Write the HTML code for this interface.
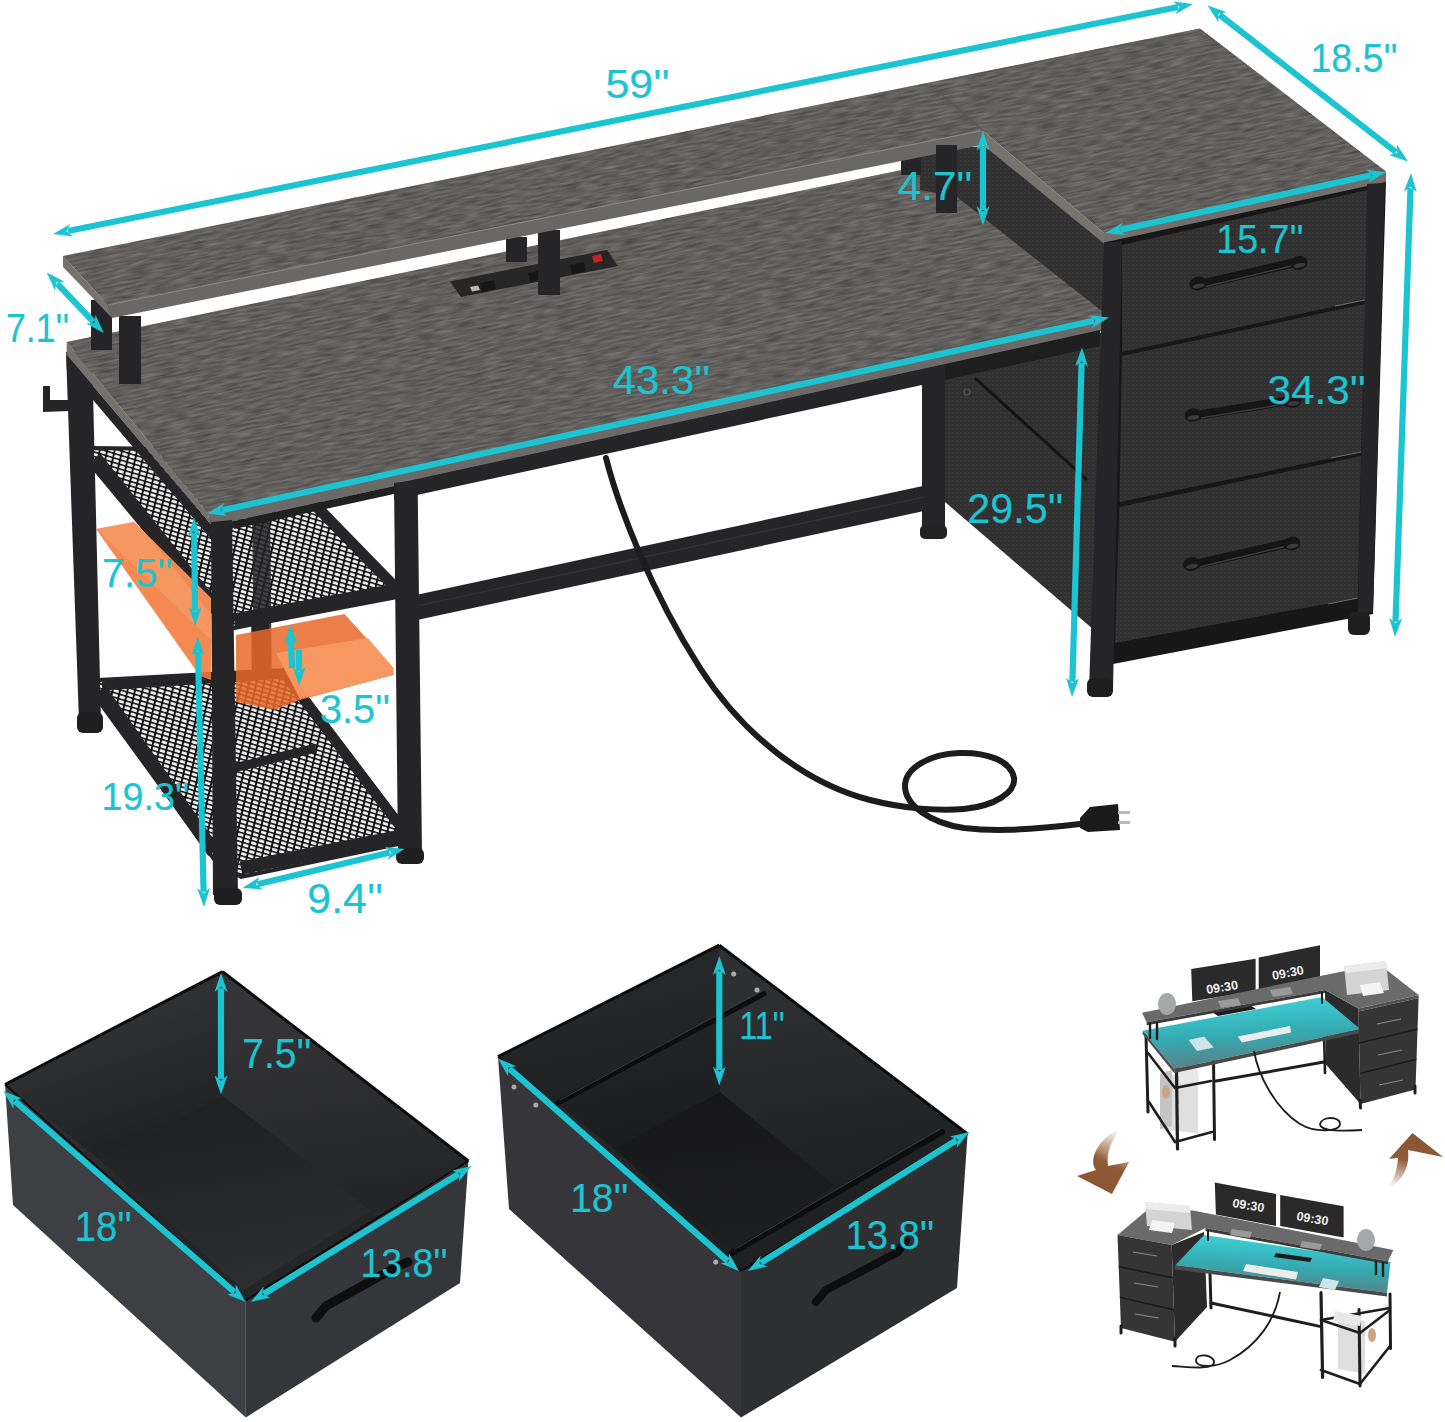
<!DOCTYPE html>
<html><head><meta charset="utf-8"><style>
html,body{margin:0;padding:0;background:#fff;width:1445px;height:1422px;overflow:hidden}
svg{display:block}
text{font-family:"Liberation Sans",sans-serif}
</style></head><body>
<svg width="1445" height="1422" viewBox="0 0 1445 1422">

<defs>
<pattern id="fab" patternUnits="userSpaceOnUse" width="4" height="4">
<rect width="4" height="4" fill="#303030"/><rect width="2" height="2" fill="#373737"/>
</pattern>
<pattern id="mesh" patternUnits="userSpaceOnUse" width="7" height="4.6" patternTransform="skewY(17) skewX(-12)">
<rect width="7" height="4.6" fill="#121212"/><rect x="0.9" y="0.8" width="5.2" height="2.9" rx="0.8" fill="#f2f2f2"/>
</pattern>
<filter id="woodtex" x="-0.1" y="-0.1" width="1.2" height="1.2" color-interpolation-filters="sRGB">
<feTurbulence type="fractalNoise" baseFrequency="0.05 0.45" numOctaves="2" seed="5" result="n"/>
<feColorMatrix in="n" type="matrix" values="0.9 0 0 0 -0.06  0.9 0 0 0 -0.07  0.9 0 0 0 -0.08  0 0 0 0 0.3"/>
</filter>
<linearGradient id="b1lw" gradientUnits="userSpaceOnUse" x1="110" y1="1030" x2="150" y2="1150"><stop offset="0" stop-color="#2f3032"/><stop offset="1" stop-color="#1f2022"/></linearGradient>
<linearGradient id="b1rw" gradientUnits="userSpaceOnUse" x1="300" y1="1000" x2="330" y2="1200"><stop offset="0" stop-color="#353537"/><stop offset="1" stop-color="#242527"/></linearGradient>
<linearGradient id="b1fl" gradientUnits="userSpaceOnUse" x1="221" y1="1100" x2="250" y2="1290"><stop offset="0" stop-color="#1f2022"/><stop offset="1" stop-color="#2d2e30"/></linearGradient>
<linearGradient id="b2lw" gradientUnits="userSpaceOnUse" x1="610" y1="1000" x2="640" y2="1140"><stop offset="0" stop-color="#262729"/><stop offset="1" stop-color="#1b1c1e"/></linearGradient>
<linearGradient id="b2rw" gradientUnits="userSpaceOnUse" x1="800" y1="990" x2="830" y2="1180"><stop offset="0" stop-color="#2e2f31"/><stop offset="1" stop-color="#1f2022"/></linearGradient>
<linearGradient id="b2fl" gradientUnits="userSpaceOnUse" x1="720" y1="1095" x2="740" y2="1258"><stop offset="0" stop-color="#17171a"/><stop offset="1" stop-color="#1e1f21"/></linearGradient>
<clipPath id="cshelf"><polygon points="63.0,256.0 1200.0,28.4 1386.0,171.5 1104.0,233.0 982.7,130.4 108.0,305.0"/></clipPath>
<clipPath id="cdesk"><polygon points="66.7,342.0 960.0,158.0 1104.0,311.0 1108.0,316.0 207.0,512.0"/></clipPath>
<radialGradient id="floorg" cx="0.45" cy="0.6" r="0.6"><stop offset="0" stop-color="#232325"/><stop offset="1" stop-color="#1c1c1e"/></radialGradient>
<linearGradient id="arrL" x1="0.7" y1="0" x2="0.3" y2="1"><stop offset="0" stop-color="#a06a45" stop-opacity="0"/><stop offset="0.5" stop-color="#8f5a36"/><stop offset="1" stop-color="#8a5533"/></linearGradient>
<linearGradient id="arrR" x1="0.3" y1="1" x2="0.6" y2="0"><stop offset="0" stop-color="#a06a45" stop-opacity="0"/><stop offset="0.5" stop-color="#8f5a36"/><stop offset="1" stop-color="#8a5533"/></linearGradient>
<linearGradient id="cyg" x1="0.3" y1="0" x2="0.5" y2="1"><stop offset="0" stop-color="#3fd6dc"/><stop offset="0.55" stop-color="#35a9b1"/><stop offset="1" stop-color="#5f7b80"/></linearGradient>
<linearGradient id="cyg2" x1="0.6" y1="0" x2="0.4" y2="1"><stop offset="0" stop-color="#3fd6dc"/><stop offset="0.55" stop-color="#35a9b1"/><stop offset="1" stop-color="#5f7b80"/></linearGradient>
</defs>

<rect width="1445" height="1422" fill="#fff"/>
<polygon points="945.0,366.0 1108.0,331.0 1101.0,636.0 945.0,502.0" fill="url(#fab)" />
<line x1="975.0" y1="378.0" x2="1087.0" y2="480.0" stroke="#141414" stroke-width="3" />
<circle cx="967" cy="392" r="3" fill="none" stroke="#555" stroke-width="1.2"/>
<polygon points="922.0,370.0 945.0,366.0 945.0,535.0 922.0,535.0" fill="#252527" />
<rect x="920.0" y="525.0" width="27.0" height="14.0" fill="#222"  rx="5"/>
<polygon points="417.0,594.7 924.0,485.8 924.0,511.0 417.0,620.0" fill="#252527" />
<line x1="417.0" y1="606.0" x2="924.0" y2="497.0" stroke="#333" stroke-width="1.2" />
<polygon points="66.0,352.0 92.0,350.0 101.0,722.0 79.0,722.0" fill="#252527" />
<rect x="77.0" y="712.0" width="26.0" height="21.0" fill="#1f1f1f"  rx="6"/>
<polygon points="250.0,500.0 268.0,498.0 270.0,700.0 252.0,702.0" fill="#252527" />
<polygon points="92.0,448.0 261.0,450.0 397.0,589.0 397.0,597.0 234.0,628.0 213.0,612.0 92.0,466.0" fill="url(#mesh)" stroke="#252527" stroke-width="4"/>
<line x1="95.0" y1="458.0" x2="213.0" y2="606.0" stroke="#252527" stroke-width="14" />
<line x1="234.0" y1="620.0" x2="396.0" y2="590.0" stroke="#252527" stroke-width="13" />
<line x1="312.0" y1="502.0" x2="396.0" y2="588.0" stroke="#252527" stroke-width="11" />
<polygon points="252.0,500.0 270.0,498.0 272.0,700.0 254.0,702.0" fill="#252527" opacity="0.85"/>
<polygon points="98.0,680.0 286.0,670.0 404.0,826.0 403.0,843.0 241.0,877.0 216.0,862.0 98.0,700.0" fill="url(#mesh)" stroke="#252527" stroke-width="4"/>
<line x1="100.0" y1="690.0" x2="214.0" y2="852.0" stroke="#252527" stroke-width="14" />
<line x1="241.0" y1="868.0" x2="402.0" y2="836.0" stroke="#252527" stroke-width="13" />
<line x1="286.0" y1="676.0" x2="403.0" y2="830.0" stroke="#252527" stroke-width="10" />
<line x1="102.0" y1="686.0" x2="286.0" y2="674.0" stroke="#252527" stroke-width="9" />
<line x1="213.0" y1="773.0" x2="316.0" y2="748.0" stroke="#252527" stroke-width="9" />
<polygon points="96.0,529.0 134.0,522.0 211.0,598.0 211.0,680.0 200.0,676.0" fill="#f27a3a" opacity="0.88"/>
<polygon points="96.0,529.0 134.0,522.0 211.0,598.0 211.0,640.0" fill="#f7a06c" opacity="0.6"/>
<polygon points="236.0,635.0 344.5,614.0 393.4,668.0 393.4,675.0 300.0,700.0 275.0,710.0 236.0,702.0" fill="#e8682a" opacity="0.85"/>
<polygon points="276.0,653.0 368.0,638.0 393.4,668.0 393.4,675.0 300.0,699.0" fill="#f79a64" opacity="0.92"/>
<polygon points="43.0,386.0 50.0,386.0 50.0,400.0 70.0,400.0 70.0,411.0 43.0,412.0" fill="#252527" />
<polygon points="66.7,342.0 960.0,158.0 1104.0,311.0 1108.0,316.0 207.0,512.0" fill="#615f5d" />
<g clip-path="url(#cdesk)">
<g transform="rotate(-11.3 587 335)"><rect x="-84" y="8" width="1342" height="654" fill="#000" filter="url(#woodtex)"/></g>
<line x1="335.8" y1="242.8" x2="476.5" y2="214.7" stroke="#4f4c4a" stroke-width="1.4" opacity="0.34"/>
<line x1="631.5" y1="669.6" x2="698.0" y2="656.3" stroke="#4f4c4a" stroke-width="1.0" opacity="0.33"/>
<line x1="69.6" y1="396.7" x2="240.2" y2="362.6" stroke="#4f4c4a" stroke-width="1.5" opacity="0.55"/>
<line x1="631.8" y1="192.8" x2="761.3" y2="166.9" stroke="#4f4c4a" stroke-width="1.6" opacity="0.32"/>
<line x1="946.4" y1="320.9" x2="1000.9" y2="310.0" stroke="#4f4c4a" stroke-width="1.2" opacity="0.52"/>
<line x1="744.8" y1="216.0" x2="872.0" y2="190.5" stroke="#4f4c4a" stroke-width="1.0" opacity="0.52"/>
<line x1="37.7" y1="191.5" x2="102.7" y2="178.5" stroke="#7a7673" stroke-width="1.1" opacity="0.61"/>
<line x1="497.7" y1="677.3" x2="589.2" y2="659.0" stroke="#4f4c4a" stroke-width="1.4" opacity="0.58"/>
<line x1="244.8" y1="481.1" x2="364.0" y2="457.2" stroke="#55524f" stroke-width="1.3" opacity="0.42"/>
<line x1="1085.4" y1="224.4" x2="1186.4" y2="204.2" stroke="#55524f" stroke-width="0.8" opacity="0.50"/>
<line x1="10.8" y1="533.8" x2="170.8" y2="501.8" stroke="#7a7673" stroke-width="1.4" opacity="0.63"/>
<line x1="354.4" y1="354.9" x2="468.9" y2="332.1" stroke="#55524f" stroke-width="0.7" opacity="0.34"/>
<line x1="274.3" y1="550.0" x2="315.3" y2="541.8" stroke="#7a7673" stroke-width="1.3" opacity="0.56"/>
<line x1="1100.1" y1="620.3" x2="1178.5" y2="604.6" stroke="#55524f" stroke-width="1.5" opacity="0.44"/>
<line x1="1040.2" y1="357.9" x2="1174.1" y2="331.1" stroke="#55524f" stroke-width="0.7" opacity="0.61"/>
<line x1="113.7" y1="297.3" x2="210.2" y2="278.0" stroke="#55524f" stroke-width="0.7" opacity="0.48"/>
<line x1="593.5" y1="654.8" x2="762.7" y2="621.0" stroke="#7a7673" stroke-width="0.9" opacity="0.47"/>
<line x1="375.7" y1="655.3" x2="568.5" y2="616.7" stroke="#4f4c4a" stroke-width="0.7" opacity="0.36"/>
<line x1="718.0" y1="164.8" x2="889.3" y2="130.5" stroke="#4f4c4a" stroke-width="0.9" opacity="0.30"/>
<line x1="444.4" y1="365.7" x2="570.7" y2="340.4" stroke="#4f4c4a" stroke-width="1.3" opacity="0.51"/>
<line x1="671.3" y1="538.3" x2="710.5" y2="530.5" stroke="#7a7673" stroke-width="1.4" opacity="0.46"/>
<line x1="421.6" y1="216.2" x2="559.5" y2="188.7" stroke="#4f4c4a" stroke-width="0.8" opacity="0.69"/>
<line x1="469.2" y1="219.8" x2="601.3" y2="193.4" stroke="#4f4c4a" stroke-width="0.6" opacity="0.36"/>
<line x1="81.9" y1="362.5" x2="116.2" y2="355.6" stroke="#4f4c4a" stroke-width="1.2" opacity="0.36"/>
<line x1="254.1" y1="353.4" x2="346.0" y2="335.0" stroke="#4f4c4a" stroke-width="0.7" opacity="0.50"/>
<line x1="1082.7" y1="428.2" x2="1165.7" y2="411.6" stroke="#4f4c4a" stroke-width="0.7" opacity="0.44"/>
<line x1="268.4" y1="624.1" x2="325.8" y2="612.7" stroke="#4f4c4a" stroke-width="0.8" opacity="0.68"/>
<line x1="379.1" y1="546.1" x2="564.5" y2="509.0" stroke="#7a7673" stroke-width="0.9" opacity="0.56"/>
<line x1="69.9" y1="633.5" x2="188.1" y2="609.9" stroke="#4f4c4a" stroke-width="1.0" opacity="0.39"/>
<line x1="584.5" y1="440.7" x2="722.7" y2="413.1" stroke="#7a7673" stroke-width="1.4" opacity="0.69"/>
<line x1="939.7" y1="611.3" x2="1108.8" y2="577.5" stroke="#7a7673" stroke-width="1.4" opacity="0.38"/>
<line x1="528.8" y1="569.1" x2="727.0" y2="529.5" stroke="#55524f" stroke-width="1.1" opacity="0.38"/>
<line x1="657.1" y1="351.6" x2="824.5" y2="318.1" stroke="#7a7673" stroke-width="1.6" opacity="0.68"/>
<line x1="382.4" y1="282.0" x2="451.0" y2="268.3" stroke="#4f4c4a" stroke-width="0.9" opacity="0.49"/>
<line x1="1091.2" y1="501.2" x2="1121.5" y2="495.1" stroke="#7a7673" stroke-width="0.9" opacity="0.56"/>
<line x1="919.2" y1="225.4" x2="1015.2" y2="206.2" stroke="#7a7673" stroke-width="1.4" opacity="0.49"/>
<line x1="169.9" y1="601.8" x2="256.4" y2="584.5" stroke="#7a7673" stroke-width="1.0" opacity="0.46"/>
<line x1="1047.2" y1="565.6" x2="1106.1" y2="553.8" stroke="#4f4c4a" stroke-width="0.6" opacity="0.54"/>
<line x1="497.4" y1="526.9" x2="631.4" y2="500.1" stroke="#7a7673" stroke-width="1.6" opacity="0.56"/>
<line x1="366.2" y1="466.6" x2="418.4" y2="456.1" stroke="#4f4c4a" stroke-width="1.4" opacity="0.59"/>
<line x1="83.4" y1="579.5" x2="137.0" y2="568.8" stroke="#4f4c4a" stroke-width="1.4" opacity="0.38"/>
<line x1="253.6" y1="322.8" x2="324.5" y2="308.6" stroke="#7a7673" stroke-width="0.9" opacity="0.52"/>
<line x1="918.7" y1="192.3" x2="1074.4" y2="161.1" stroke="#55524f" stroke-width="1.3" opacity="0.63"/>
<line x1="556.1" y1="623.2" x2="735.4" y2="587.3" stroke="#4f4c4a" stroke-width="1.1" opacity="0.51"/>
<line x1="-12.6" y1="405.5" x2="48.5" y2="393.3" stroke="#4f4c4a" stroke-width="1.4" opacity="0.36"/>
<line x1="127.7" y1="506.2" x2="178.1" y2="496.1" stroke="#4f4c4a" stroke-width="0.9" opacity="0.51"/>
<line x1="600.3" y1="599.1" x2="648.4" y2="589.5" stroke="#7a7673" stroke-width="0.7" opacity="0.38"/>
<line x1="14.2" y1="213.0" x2="121.1" y2="191.6" stroke="#4f4c4a" stroke-width="1.4" opacity="0.66"/>
<line x1="472.2" y1="502.5" x2="588.1" y2="479.3" stroke="#7a7673" stroke-width="0.8" opacity="0.41"/>
<line x1="546.3" y1="612.1" x2="662.6" y2="588.8" stroke="#4f4c4a" stroke-width="1.3" opacity="0.65"/>
<line x1="1042.0" y1="304.0" x2="1167.1" y2="279.0" stroke="#4f4c4a" stroke-width="1.4" opacity="0.35"/>
<line x1="104.9" y1="406.6" x2="147.2" y2="398.2" stroke="#4f4c4a" stroke-width="1.0" opacity="0.39"/>
<line x1="311.8" y1="226.8" x2="473.9" y2="194.4" stroke="#7a7673" stroke-width="1.2" opacity="0.45"/>
<line x1="255.0" y1="235.2" x2="364.6" y2="213.3" stroke="#7a7673" stroke-width="1.6" opacity="0.46"/>
<line x1="522.5" y1="714.7" x2="694.0" y2="680.4" stroke="#4f4c4a" stroke-width="1.3" opacity="0.70"/>
<line x1="427.2" y1="394.9" x2="517.8" y2="376.8" stroke="#4f4c4a" stroke-width="1.3" opacity="0.31"/>
<line x1="598.7" y1="405.7" x2="631.8" y2="399.1" stroke="#55524f" stroke-width="1.1" opacity="0.42"/>
<line x1="1063.2" y1="221.5" x2="1249.4" y2="184.2" stroke="#4f4c4a" stroke-width="1.6" opacity="0.34"/>
<line x1="269.3" y1="180.3" x2="431.7" y2="147.8" stroke="#55524f" stroke-width="1.4" opacity="0.63"/>
<line x1="936.2" y1="538.2" x2="1127.0" y2="500.0" stroke="#55524f" stroke-width="0.7" opacity="0.67"/>
<line x1="617.6" y1="551.9" x2="662.8" y2="542.9" stroke="#4f4c4a" stroke-width="1.4" opacity="0.37"/>
<line x1="988.4" y1="309.2" x2="1021.3" y2="302.7" stroke="#4f4c4a" stroke-width="1.4" opacity="0.33"/>
<line x1="943.8" y1="195.5" x2="1120.5" y2="160.1" stroke="#55524f" stroke-width="0.6" opacity="0.70"/>
<line x1="443.1" y1="672.8" x2="578.8" y2="645.7" stroke="#4f4c4a" stroke-width="1.1" opacity="0.40"/>
<line x1="91.0" y1="248.8" x2="129.6" y2="241.1" stroke="#4f4c4a" stroke-width="1.5" opacity="0.55"/>
<line x1="572.5" y1="273.8" x2="678.3" y2="252.6" stroke="#7a7673" stroke-width="0.8" opacity="0.44"/>
<line x1="-13.3" y1="298.9" x2="19.4" y2="292.3" stroke="#7a7673" stroke-width="1.1" opacity="0.69"/>
<line x1="553.3" y1="296.2" x2="659.3" y2="275.0" stroke="#7a7673" stroke-width="1.4" opacity="0.47"/>
<line x1="531.3" y1="627.4" x2="628.1" y2="608.0" stroke="#7a7673" stroke-width="0.9" opacity="0.39"/>
<line x1="228.2" y1="269.7" x2="408.1" y2="233.7" stroke="#7a7673" stroke-width="1.2" opacity="0.46"/>
<line x1="362.9" y1="188.6" x2="415.0" y2="178.2" stroke="#4f4c4a" stroke-width="1.2" opacity="0.65"/>
<line x1="457.9" y1="189.2" x2="601.0" y2="160.5" stroke="#55524f" stroke-width="1.5" opacity="0.57"/>
<line x1="288.0" y1="294.2" x2="367.8" y2="278.3" stroke="#55524f" stroke-width="0.8" opacity="0.41"/>
<line x1="-29.9" y1="362.8" x2="56.1" y2="345.6" stroke="#7a7673" stroke-width="0.9" opacity="0.31"/>
<line x1="973.7" y1="280.5" x2="1034.8" y2="268.3" stroke="#55524f" stroke-width="1.0" opacity="0.49"/>
<line x1="540.2" y1="271.0" x2="656.0" y2="247.9" stroke="#4f4c4a" stroke-width="0.7" opacity="0.63"/>
<line x1="130.3" y1="488.0" x2="227.3" y2="468.6" stroke="#55524f" stroke-width="0.9" opacity="0.39"/>
<line x1="634.7" y1="455.6" x2="792.3" y2="424.1" stroke="#7a7673" stroke-width="1.5" opacity="0.61"/>
<line x1="647.3" y1="587.8" x2="799.8" y2="557.3" stroke="#55524f" stroke-width="0.7" opacity="0.59"/>
<line x1="700.6" y1="182.6" x2="872.6" y2="148.2" stroke="#7a7673" stroke-width="1.2" opacity="0.59"/>
<line x1="893.6" y1="236.3" x2="1012.6" y2="212.5" stroke="#7a7673" stroke-width="1.2" opacity="0.63"/>
<line x1="-15.6" y1="544.1" x2="150.0" y2="510.9" stroke="#7a7673" stroke-width="1.3" opacity="0.58"/>
<line x1="228.6" y1="175.5" x2="281.2" y2="165.0" stroke="#55524f" stroke-width="1.6" opacity="0.45"/>
<line x1="481.5" y1="186.6" x2="514.7" y2="179.9" stroke="#7a7673" stroke-width="1.3" opacity="0.50"/>
<line x1="-30.2" y1="606.6" x2="127.0" y2="575.2" stroke="#7a7673" stroke-width="1.5" opacity="0.34"/>
<line x1="566.7" y1="577.4" x2="677.2" y2="555.3" stroke="#4f4c4a" stroke-width="1.4" opacity="0.39"/>
<line x1="829.9" y1="287.8" x2="970.3" y2="259.7" stroke="#55524f" stroke-width="1.1" opacity="0.45"/>
<line x1="513.0" y1="542.5" x2="673.4" y2="510.4" stroke="#7a7673" stroke-width="1.2" opacity="0.38"/>
<line x1="650.9" y1="344.6" x2="791.6" y2="316.4" stroke="#7a7673" stroke-width="0.9" opacity="0.53"/>
<line x1="-19.8" y1="192.1" x2="55.9" y2="177.0" stroke="#7a7673" stroke-width="0.7" opacity="0.39"/>
<line x1="525.1" y1="556.7" x2="603.7" y2="541.0" stroke="#55524f" stroke-width="1.1" opacity="0.35"/>
<line x1="986.6" y1="270.1" x2="1182.8" y2="230.8" stroke="#55524f" stroke-width="0.6" opacity="0.48"/>
<line x1="902.3" y1="702.5" x2="1008.7" y2="681.2" stroke="#55524f" stroke-width="1.0" opacity="0.67"/>
<line x1="1028.7" y1="200.0" x2="1074.0" y2="190.9" stroke="#7a7673" stroke-width="1.1" opacity="0.68"/>
<line x1="117.4" y1="619.3" x2="233.9" y2="596.0" stroke="#4f4c4a" stroke-width="1.3" opacity="0.39"/>
<line x1="991.2" y1="431.4" x2="1025.4" y2="424.6" stroke="#4f4c4a" stroke-width="1.5" opacity="0.57"/>
<line x1="429.0" y1="567.0" x2="529.7" y2="546.8" stroke="#55524f" stroke-width="0.9" opacity="0.64"/>
<line x1="-32.0" y1="580.2" x2="140.6" y2="545.7" stroke="#4f4c4a" stroke-width="1.5" opacity="0.38"/>
<line x1="-20.6" y1="574.1" x2="52.4" y2="559.5" stroke="#4f4c4a" stroke-width="1.0" opacity="0.70"/>
<line x1="638.8" y1="360.9" x2="741.6" y2="340.3" stroke="#55524f" stroke-width="1.5" opacity="0.41"/>
<line x1="24.9" y1="530.3" x2="162.9" y2="502.7" stroke="#4f4c4a" stroke-width="0.8" opacity="0.41"/>
<line x1="549.5" y1="264.8" x2="643.0" y2="246.1" stroke="#55524f" stroke-width="1.5" opacity="0.62"/>
<line x1="686.5" y1="671.7" x2="876.4" y2="633.7" stroke="#7a7673" stroke-width="0.8" opacity="0.33"/>
<line x1="1032.0" y1="389.1" x2="1166.6" y2="362.2" stroke="#4f4c4a" stroke-width="1.2" opacity="0.41"/>
<line x1="21.9" y1="679.2" x2="73.6" y2="668.9" stroke="#55524f" stroke-width="1.0" opacity="0.41"/>
<line x1="258.1" y1="573.5" x2="399.0" y2="545.3" stroke="#55524f" stroke-width="1.3" opacity="0.42"/>
<line x1="602.5" y1="379.8" x2="660.9" y2="368.1" stroke="#4f4c4a" stroke-width="0.7" opacity="0.50"/>
<line x1="893.1" y1="467.5" x2="1000.1" y2="446.1" stroke="#55524f" stroke-width="1.6" opacity="0.48"/>
<line x1="125.4" y1="266.2" x2="170.8" y2="257.1" stroke="#55524f" stroke-width="1.2" opacity="0.43"/>
<line x1="386.6" y1="613.2" x2="451.0" y2="600.3" stroke="#4f4c4a" stroke-width="1.3" opacity="0.47"/>
<line x1="438.7" y1="452.8" x2="532.7" y2="434.0" stroke="#55524f" stroke-width="1.4" opacity="0.50"/>
<line x1="621.8" y1="360.5" x2="768.6" y2="331.2" stroke="#7a7673" stroke-width="1.2" opacity="0.65"/>
<line x1="212.6" y1="310.4" x2="284.9" y2="296.0" stroke="#55524f" stroke-width="1.2" opacity="0.47"/>
<line x1="322.3" y1="616.0" x2="516.9" y2="577.1" stroke="#4f4c4a" stroke-width="0.6" opacity="0.58"/>
<line x1="988.9" y1="424.2" x2="1118.7" y2="398.2" stroke="#4f4c4a" stroke-width="0.7" opacity="0.67"/>
<line x1="1026.0" y1="454.9" x2="1135.5" y2="433.0" stroke="#55524f" stroke-width="0.8" opacity="0.34"/>
<line x1="142.3" y1="451.8" x2="288.3" y2="422.6" stroke="#7a7673" stroke-width="1.3" opacity="0.64"/>
<line x1="988.0" y1="205.8" x2="1150.0" y2="173.4" stroke="#4f4c4a" stroke-width="1.4" opacity="0.39"/>
<line x1="1016.5" y1="521.0" x2="1098.2" y2="504.7" stroke="#4f4c4a" stroke-width="1.2" opacity="0.51"/>
<line x1="465.5" y1="587.6" x2="512.5" y2="578.2" stroke="#55524f" stroke-width="1.1" opacity="0.53"/>
<line x1="409.2" y1="283.7" x2="541.4" y2="257.3" stroke="#4f4c4a" stroke-width="1.1" opacity="0.70"/>
<line x1="284.2" y1="335.9" x2="456.9" y2="301.4" stroke="#4f4c4a" stroke-width="1.1" opacity="0.39"/>
<line x1="248.1" y1="698.2" x2="397.9" y2="668.3" stroke="#55524f" stroke-width="0.7" opacity="0.38"/>
<line x1="976.5" y1="522.0" x2="1020.3" y2="513.2" stroke="#4f4c4a" stroke-width="1.3" opacity="0.67"/>
<line x1="225.0" y1="177.2" x2="312.5" y2="159.7" stroke="#55524f" stroke-width="1.0" opacity="0.46"/>
<line x1="-26.3" y1="322.3" x2="147.4" y2="287.5" stroke="#4f4c4a" stroke-width="0.8" opacity="0.69"/>
<line x1="322.0" y1="619.2" x2="391.2" y2="605.3" stroke="#4f4c4a" stroke-width="0.9" opacity="0.66"/>
<line x1="90.5" y1="508.7" x2="224.2" y2="482.0" stroke="#4f4c4a" stroke-width="1.1" opacity="0.66"/>
<line x1="30.4" y1="492.5" x2="217.2" y2="455.2" stroke="#4f4c4a" stroke-width="0.8" opacity="0.69"/>
<line x1="128.1" y1="187.2" x2="168.3" y2="179.1" stroke="#55524f" stroke-width="1.0" opacity="0.58"/>
<line x1="324.8" y1="221.7" x2="368.3" y2="213.0" stroke="#4f4c4a" stroke-width="0.9" opacity="0.37"/>
<line x1="1034.8" y1="577.7" x2="1070.2" y2="570.6" stroke="#7a7673" stroke-width="1.3" opacity="0.64"/>
<line x1="1090.9" y1="406.8" x2="1139.4" y2="397.1" stroke="#4f4c4a" stroke-width="0.9" opacity="0.44"/>
<line x1="1057.2" y1="227.6" x2="1251.1" y2="188.8" stroke="#4f4c4a" stroke-width="1.0" opacity="0.61"/>
<line x1="318.5" y1="610.1" x2="363.5" y2="601.1" stroke="#7a7673" stroke-width="1.1" opacity="0.45"/>
<line x1="1016.1" y1="266.6" x2="1108.0" y2="248.2" stroke="#55524f" stroke-width="0.6" opacity="0.46"/>
<line x1="893.1" y1="589.2" x2="930.0" y2="581.8" stroke="#4f4c4a" stroke-width="1.1" opacity="0.62"/>
<line x1="36.8" y1="267.6" x2="77.5" y2="259.5" stroke="#7a7673" stroke-width="0.9" opacity="0.41"/>
<line x1="1059.7" y1="505.0" x2="1134.3" y2="490.1" stroke="#7a7673" stroke-width="1.3" opacity="0.67"/>
<line x1="305.6" y1="563.8" x2="436.9" y2="537.6" stroke="#7a7673" stroke-width="1.5" opacity="0.33"/>
<line x1="909.3" y1="218.3" x2="1061.0" y2="188.0" stroke="#55524f" stroke-width="1.6" opacity="0.45"/>
<line x1="252.7" y1="399.8" x2="366.6" y2="377.0" stroke="#55524f" stroke-width="0.8" opacity="0.62"/>
<line x1="809.4" y1="620.7" x2="970.7" y2="588.4" stroke="#7a7673" stroke-width="0.8" opacity="0.64"/>
<line x1="492.2" y1="598.8" x2="623.5" y2="572.6" stroke="#7a7673" stroke-width="0.8" opacity="0.60"/>
<line x1="248.4" y1="194.4" x2="284.2" y2="187.3" stroke="#7a7673" stroke-width="1.1" opacity="0.36"/>
<line x1="453.1" y1="217.2" x2="495.4" y2="208.7" stroke="#7a7673" stroke-width="0.7" opacity="0.34"/>
<line x1="535.3" y1="557.2" x2="641.2" y2="536.0" stroke="#4f4c4a" stroke-width="0.7" opacity="0.48"/>
<line x1="983.8" y1="290.1" x2="1105.4" y2="265.8" stroke="#7a7673" stroke-width="1.4" opacity="0.61"/>
<line x1="301.7" y1="315.1" x2="377.2" y2="300.0" stroke="#55524f" stroke-width="1.3" opacity="0.38"/>
<line x1="248.6" y1="296.0" x2="304.6" y2="284.8" stroke="#7a7673" stroke-width="0.8" opacity="0.33"/>
<line x1="253.4" y1="296.3" x2="372.9" y2="272.4" stroke="#7a7673" stroke-width="1.4" opacity="0.56"/>
<line x1="1097.7" y1="215.6" x2="1208.4" y2="193.4" stroke="#4f4c4a" stroke-width="1.4" opacity="0.67"/>
<line x1="12.1" y1="323.2" x2="62.4" y2="313.1" stroke="#4f4c4a" stroke-width="1.2" opacity="0.63"/>
<line x1="187.7" y1="200.2" x2="304.9" y2="176.8" stroke="#4f4c4a" stroke-width="1.0" opacity="0.40"/>
<line x1="854.2" y1="689.9" x2="902.2" y2="680.3" stroke="#7a7673" stroke-width="1.3" opacity="0.44"/>
<line x1="8.8" y1="349.2" x2="46.3" y2="341.7" stroke="#55524f" stroke-width="0.6" opacity="0.59"/>
<line x1="1009.7" y1="616.2" x2="1178.9" y2="582.4" stroke="#55524f" stroke-width="1.3" opacity="0.37"/>
<line x1="322.5" y1="272.4" x2="487.7" y2="239.4" stroke="#7a7673" stroke-width="1.1" opacity="0.46"/>
<line x1="874.9" y1="531.4" x2="931.1" y2="520.2" stroke="#7a7673" stroke-width="0.7" opacity="0.37"/>
<line x1="760.2" y1="388.5" x2="838.3" y2="372.8" stroke="#55524f" stroke-width="1.0" opacity="0.32"/>
</g>
<polygon points="66.7,342.0 207.0,512.0 212.0,526.0 66.7,355.0" fill="#74716e" />
<polygon points="207.0,512.0 1108.0,316.0 1108.0,330.0 212.0,526.0" fill="#6c6a68" />
<polygon points="66.7,355.0 212.0,526.0 212.0,540.0 66.7,369.0" fill="#252527" />
<polygon points="232.0,522.0 394.0,487.0 394.0,493.0 232.0,528.0" fill="#252527" />
<polygon points="394.0,484.0 945.0,364.0 945.0,380.0 394.0,500.0" fill="#252527" />
<polygon points="945.0,364.0 1100.0,330.0 1100.0,346.0 945.0,380.0" fill="#1e1e1e" />
<polygon points="234.0,521.0 394.0,486.0 394.0,494.0 234.0,529.0" fill="#202020" />
<polygon points="211.0,522.0 232.0,520.0 238.0,895.0 213.0,895.0" fill="#252527" />
<rect x="214.0" y="888.0" width="28.0" height="17.0" fill="#1f1f1f"  rx="6"/>
<polygon points="394.0,483.0 417.6,480.0 422.0,855.0 398.0,855.0" fill="#252527" />
<rect x="396.0" y="848.0" width="28.0" height="16.0" fill="#1f1f1f"  rx="6"/>
<polygon points="920.0,150.0 988.0,146.0 1108.0,243.0 1108.0,316.0 957.0,197.0 920.0,190.0" fill="url(#fab)" />
<polygon points="450.0,281.5 607.0,250.0 618.0,266.0 461.0,297.0" fill="#262626" />
<polygon points="480.0,283.0 494.0,280.0 496.0,289.0 482.0,292.0" fill="#161616" />
<polygon points="528.0,273.0 542.0,270.0 544.0,279.0 530.0,282.0" fill="#161616" />
<polygon points="570.0,265.0 584.0,262.0 586.0,271.0 572.0,274.0" fill="#161616" />
<polygon points="592.0,256.0 601.0,254.0 603.0,261.0 594.0,263.0" fill="#c0242a" />
<polygon points="470.0,287.0 478.0,285.5 480.0,290.0 472.0,291.5" fill="#bbb" />
<rect x="91.0" y="300.0" width="21.0" height="50.0" fill="#252527" />
<rect x="119.0" y="316.0" width="22.0" height="68.0" fill="#252527" />
<rect x="506.0" y="237.0" width="21.0" height="25.0" fill="#252527" />
<rect x="538.0" y="230.0" width="22.0" height="65.0" fill="#252527" />
<rect x="901.0" y="157.0" width="20.0" height="18.0" fill="#252527" />
<rect x="936.0" y="150.0" width="21.0" height="63.0" fill="#252527" />
<polygon points="63.0,256.0 1200.0,28.4 1386.0,171.5 1104.0,233.0 982.7,130.4 108.0,305.0" fill="#615f5d" />
<g clip-path="url(#cshelf)">
<g transform="rotate(-11.3 724 166)"><rect x="-87" y="-122" width="1623" height="577" fill="#000" filter="url(#woodtex)"/></g>
<line x1="1023.6" y1="506.6" x2="1124.0" y2="486.5" stroke="#4f4c4a" stroke-width="1.5" opacity="0.70"/>
<line x1="480.7" y1="134.8" x2="634.4" y2="104.1" stroke="#4f4c4a" stroke-width="1.5" opacity="0.47"/>
<line x1="185.8" y1="89.5" x2="231.2" y2="80.4" stroke="#7a7673" stroke-width="1.5" opacity="0.48"/>
<line x1="194.3" y1="36.0" x2="318.1" y2="11.3" stroke="#7a7673" stroke-width="1.4" opacity="0.46"/>
<line x1="778.2" y1="530.2" x2="933.5" y2="499.1" stroke="#4f4c4a" stroke-width="0.7" opacity="0.41"/>
<line x1="704.6" y1="529.3" x2="753.1" y2="519.6" stroke="#55524f" stroke-width="1.4" opacity="0.62"/>
<line x1="1108.1" y1="191.4" x2="1280.4" y2="156.9" stroke="#4f4c4a" stroke-width="1.6" opacity="0.49"/>
<line x1="39.0" y1="529.6" x2="134.9" y2="510.4" stroke="#7a7673" stroke-width="1.2" opacity="0.63"/>
<line x1="191.1" y1="453.6" x2="258.8" y2="440.1" stroke="#55524f" stroke-width="1.2" opacity="0.38"/>
<line x1="636.0" y1="334.2" x2="673.1" y2="326.8" stroke="#7a7673" stroke-width="0.8" opacity="0.44"/>
<line x1="175.7" y1="553.7" x2="344.4" y2="520.0" stroke="#4f4c4a" stroke-width="0.6" opacity="0.52"/>
<line x1="1040.9" y1="48.7" x2="1213.4" y2="14.2" stroke="#4f4c4a" stroke-width="1.0" opacity="0.48"/>
<line x1="1171.1" y1="449.4" x2="1311.5" y2="421.3" stroke="#55524f" stroke-width="1.2" opacity="0.47"/>
<line x1="900.5" y1="270.0" x2="1005.1" y2="249.1" stroke="#4f4c4a" stroke-width="0.6" opacity="0.69"/>
<line x1="625.1" y1="270.0" x2="760.2" y2="243.0" stroke="#55524f" stroke-width="1.4" opacity="0.62"/>
<line x1="532.7" y1="64.4" x2="623.6" y2="46.2" stroke="#55524f" stroke-width="0.7" opacity="0.48"/>
<line x1="689.0" y1="50.1" x2="827.2" y2="22.4" stroke="#4f4c4a" stroke-width="1.5" opacity="0.43"/>
<line x1="988.1" y1="71.3" x2="1146.0" y2="39.7" stroke="#55524f" stroke-width="1.3" opacity="0.61"/>
<line x1="-0.2" y1="64.0" x2="134.2" y2="37.1" stroke="#7a7673" stroke-width="1.4" opacity="0.38"/>
<line x1="1360.0" y1="294.4" x2="1552.6" y2="255.9" stroke="#4f4c4a" stroke-width="1.3" opacity="0.59"/>
<line x1="277.7" y1="479.2" x2="411.4" y2="452.4" stroke="#55524f" stroke-width="0.8" opacity="0.66"/>
<line x1="354.3" y1="469.7" x2="408.7" y2="458.9" stroke="#7a7673" stroke-width="1.6" opacity="0.49"/>
<line x1="805.3" y1="361.6" x2="875.6" y2="347.5" stroke="#55524f" stroke-width="0.6" opacity="0.37"/>
<line x1="192.4" y1="535.2" x2="338.0" y2="506.0" stroke="#55524f" stroke-width="0.8" opacity="0.61"/>
<line x1="126.8" y1="315.4" x2="264.9" y2="287.8" stroke="#55524f" stroke-width="1.6" opacity="0.48"/>
<line x1="705.0" y1="401.0" x2="887.4" y2="364.5" stroke="#55524f" stroke-width="1.6" opacity="0.55"/>
<line x1="524.0" y1="460.0" x2="599.0" y2="445.0" stroke="#55524f" stroke-width="1.2" opacity="0.44"/>
<line x1="1051.1" y1="267.5" x2="1111.1" y2="255.5" stroke="#7a7673" stroke-width="1.6" opacity="0.42"/>
<line x1="697.4" y1="195.9" x2="891.6" y2="157.1" stroke="#7a7673" stroke-width="1.5" opacity="0.66"/>
<line x1="1006.1" y1="432.6" x2="1073.8" y2="419.1" stroke="#55524f" stroke-width="1.2" opacity="0.47"/>
<line x1="692.5" y1="513.0" x2="745.0" y2="502.5" stroke="#4f4c4a" stroke-width="1.2" opacity="0.32"/>
<line x1="40.4" y1="335.2" x2="122.0" y2="318.8" stroke="#7a7673" stroke-width="1.0" opacity="0.39"/>
<line x1="793.4" y1="347.1" x2="858.2" y2="334.1" stroke="#7a7673" stroke-width="1.4" opacity="0.36"/>
<line x1="-16.9" y1="462.1" x2="133.4" y2="432.0" stroke="#55524f" stroke-width="0.7" opacity="0.56"/>
<line x1="1202.8" y1="451.6" x2="1301.2" y2="431.9" stroke="#55524f" stroke-width="1.6" opacity="0.32"/>
<line x1="1131.1" y1="511.5" x2="1262.2" y2="485.3" stroke="#7a7673" stroke-width="1.0" opacity="0.67"/>
<line x1="1006.8" y1="162.6" x2="1190.4" y2="125.9" stroke="#4f4c4a" stroke-width="0.7" opacity="0.31"/>
<line x1="227.2" y1="114.2" x2="412.2" y2="77.2" stroke="#4f4c4a" stroke-width="0.6" opacity="0.52"/>
<line x1="1301.9" y1="105.1" x2="1365.8" y2="92.3" stroke="#7a7673" stroke-width="1.2" opacity="0.56"/>
<line x1="553.9" y1="360.1" x2="670.4" y2="336.8" stroke="#4f4c4a" stroke-width="0.9" opacity="0.32"/>
<line x1="1228.5" y1="452.1" x2="1380.2" y2="421.7" stroke="#4f4c4a" stroke-width="1.0" opacity="0.47"/>
<line x1="1261.1" y1="71.6" x2="1402.6" y2="43.3" stroke="#4f4c4a" stroke-width="0.8" opacity="0.34"/>
<line x1="293.6" y1="49.0" x2="380.6" y2="31.6" stroke="#7a7673" stroke-width="1.5" opacity="0.68"/>
<line x1="337.7" y1="56.5" x2="475.8" y2="28.8" stroke="#7a7673" stroke-width="1.0" opacity="0.62"/>
<line x1="707.6" y1="171.7" x2="846.7" y2="143.9" stroke="#4f4c4a" stroke-width="0.7" opacity="0.50"/>
<line x1="204.6" y1="518.0" x2="377.7" y2="483.4" stroke="#4f4c4a" stroke-width="1.5" opacity="0.60"/>
<line x1="428.1" y1="504.7" x2="514.0" y2="487.5" stroke="#4f4c4a" stroke-width="1.0" opacity="0.64"/>
<line x1="1274.5" y1="559.7" x2="1447.6" y2="525.1" stroke="#7a7673" stroke-width="1.1" opacity="0.64"/>
<line x1="955.7" y1="492.4" x2="1060.0" y2="471.6" stroke="#7a7673" stroke-width="0.8" opacity="0.65"/>
<line x1="1086.0" y1="240.1" x2="1215.5" y2="214.2" stroke="#7a7673" stroke-width="1.5" opacity="0.36"/>
<line x1="1.3" y1="85.8" x2="189.2" y2="48.2" stroke="#55524f" stroke-width="1.6" opacity="0.58"/>
<line x1="6.9" y1="103.0" x2="146.3" y2="75.1" stroke="#4f4c4a" stroke-width="1.3" opacity="0.59"/>
<line x1="56.6" y1="347.8" x2="148.4" y2="329.4" stroke="#7a7673" stroke-width="1.5" opacity="0.33"/>
<line x1="1197.9" y1="523.2" x2="1388.4" y2="485.1" stroke="#4f4c4a" stroke-width="0.8" opacity="0.38"/>
<line x1="11.2" y1="542.1" x2="196.1" y2="505.1" stroke="#7a7673" stroke-width="0.7" opacity="0.60"/>
<line x1="862.7" y1="286.4" x2="915.3" y2="275.9" stroke="#7a7673" stroke-width="0.8" opacity="0.43"/>
<line x1="566.0" y1="39.3" x2="639.7" y2="24.6" stroke="#55524f" stroke-width="0.6" opacity="0.60"/>
<line x1="1258.4" y1="444.6" x2="1390.7" y2="418.2" stroke="#55524f" stroke-width="1.5" opacity="0.55"/>
<line x1="7.1" y1="251.6" x2="111.3" y2="230.8" stroke="#4f4c4a" stroke-width="0.9" opacity="0.58"/>
<line x1="728.4" y1="145.3" x2="905.0" y2="110.0" stroke="#4f4c4a" stroke-width="1.2" opacity="0.41"/>
<line x1="583.5" y1="311.6" x2="662.5" y2="295.8" stroke="#4f4c4a" stroke-width="0.6" opacity="0.50"/>
<line x1="662.4" y1="459.5" x2="723.8" y2="447.3" stroke="#55524f" stroke-width="1.2" opacity="0.68"/>
<line x1="696.0" y1="341.0" x2="753.1" y2="329.6" stroke="#4f4c4a" stroke-width="1.5" opacity="0.39"/>
<line x1="198.9" y1="536.4" x2="359.3" y2="504.3" stroke="#55524f" stroke-width="1.4" opacity="0.58"/>
<line x1="1082.8" y1="368.1" x2="1173.3" y2="350.0" stroke="#55524f" stroke-width="1.5" opacity="0.66"/>
<line x1="1023.4" y1="256.6" x2="1163.2" y2="228.7" stroke="#55524f" stroke-width="0.8" opacity="0.41"/>
<line x1="1245.4" y1="299.4" x2="1339.9" y2="280.5" stroke="#7a7673" stroke-width="0.8" opacity="0.48"/>
<line x1="719.4" y1="436.6" x2="877.4" y2="405.0" stroke="#7a7673" stroke-width="0.6" opacity="0.53"/>
<line x1="705.4" y1="498.1" x2="812.0" y2="476.8" stroke="#7a7673" stroke-width="1.3" opacity="0.37"/>
<line x1="587.4" y1="446.9" x2="715.9" y2="421.2" stroke="#4f4c4a" stroke-width="0.9" opacity="0.56"/>
<line x1="954.2" y1="303.0" x2="1029.7" y2="287.9" stroke="#7a7673" stroke-width="1.4" opacity="0.55"/>
<line x1="992.3" y1="555.9" x2="1145.2" y2="525.3" stroke="#7a7673" stroke-width="1.1" opacity="0.36"/>
<line x1="429.9" y1="130.5" x2="625.6" y2="91.4" stroke="#7a7673" stroke-width="1.6" opacity="0.37"/>
<line x1="899.2" y1="133.8" x2="954.9" y2="122.7" stroke="#4f4c4a" stroke-width="1.4" opacity="0.59"/>
<line x1="581.9" y1="134.3" x2="720.4" y2="106.6" stroke="#4f4c4a" stroke-width="0.9" opacity="0.65"/>
<line x1="623.2" y1="34.8" x2="798.4" y2="-0.2" stroke="#55524f" stroke-width="1.3" opacity="0.50"/>
<line x1="862.9" y1="278.9" x2="917.0" y2="268.1" stroke="#7a7673" stroke-width="1.3" opacity="0.30"/>
<line x1="307.8" y1="489.9" x2="457.0" y2="460.1" stroke="#7a7673" stroke-width="1.3" opacity="0.47"/>
<line x1="288.2" y1="419.2" x2="467.9" y2="383.2" stroke="#7a7673" stroke-width="1.3" opacity="0.64"/>
<line x1="930.1" y1="375.5" x2="1037.2" y2="354.0" stroke="#55524f" stroke-width="0.9" opacity="0.58"/>
<line x1="1236.2" y1="159.3" x2="1334.2" y2="139.7" stroke="#7a7673" stroke-width="1.2" opacity="0.40"/>
<line x1="565.8" y1="274.5" x2="701.4" y2="247.4" stroke="#55524f" stroke-width="1.1" opacity="0.56"/>
<line x1="1205.3" y1="512.5" x2="1291.0" y2="495.3" stroke="#4f4c4a" stroke-width="1.0" opacity="0.50"/>
<line x1="1349.9" y1="48.7" x2="1472.3" y2="24.2" stroke="#4f4c4a" stroke-width="1.3" opacity="0.68"/>
<line x1="247.3" y1="216.6" x2="421.3" y2="181.8" stroke="#55524f" stroke-width="1.1" opacity="0.59"/>
<line x1="691.8" y1="374.2" x2="862.8" y2="340.0" stroke="#7a7673" stroke-width="0.9" opacity="0.60"/>
<line x1="613.2" y1="564.3" x2="674.4" y2="552.1" stroke="#7a7673" stroke-width="1.4" opacity="0.35"/>
<line x1="1363.9" y1="220.5" x2="1403.5" y2="212.6" stroke="#55524f" stroke-width="1.0" opacity="0.32"/>
<line x1="70.0" y1="523.8" x2="206.8" y2="496.4" stroke="#7a7673" stroke-width="1.0" opacity="0.41"/>
<line x1="282.4" y1="429.6" x2="472.1" y2="391.6" stroke="#7a7673" stroke-width="1.6" opacity="0.70"/>
<line x1="1330.3" y1="278.3" x2="1388.3" y2="266.7" stroke="#4f4c4a" stroke-width="1.4" opacity="0.55"/>
<line x1="630.6" y1="332.4" x2="699.0" y2="318.7" stroke="#4f4c4a" stroke-width="1.0" opacity="0.56"/>
<line x1="1128.1" y1="470.0" x2="1237.6" y2="448.1" stroke="#55524f" stroke-width="1.4" opacity="0.56"/>
<line x1="1072.7" y1="282.2" x2="1235.9" y2="249.6" stroke="#4f4c4a" stroke-width="0.9" opacity="0.45"/>
<line x1="323.8" y1="258.8" x2="385.4" y2="246.5" stroke="#4f4c4a" stroke-width="1.4" opacity="0.62"/>
<line x1="472.4" y1="382.4" x2="556.9" y2="365.5" stroke="#55524f" stroke-width="1.0" opacity="0.55"/>
<line x1="901.1" y1="224.3" x2="1089.0" y2="186.7" stroke="#55524f" stroke-width="0.7" opacity="0.63"/>
<line x1="1252.0" y1="452.6" x2="1305.8" y2="441.9" stroke="#55524f" stroke-width="1.2" opacity="0.31"/>
<line x1="-20.7" y1="543.5" x2="120.8" y2="515.2" stroke="#55524f" stroke-width="1.2" opacity="0.53"/>
<line x1="1178.5" y1="128.6" x2="1285.3" y2="107.2" stroke="#4f4c4a" stroke-width="0.8" opacity="0.46"/>
<line x1="723.6" y1="358.1" x2="870.6" y2="328.7" stroke="#4f4c4a" stroke-width="1.3" opacity="0.66"/>
<line x1="1084.4" y1="482.3" x2="1148.0" y2="469.6" stroke="#7a7673" stroke-width="0.8" opacity="0.33"/>
<line x1="1157.3" y1="391.5" x2="1207.2" y2="381.6" stroke="#4f4c4a" stroke-width="0.9" opacity="0.39"/>
<line x1="161.3" y1="295.1" x2="201.2" y2="287.1" stroke="#55524f" stroke-width="1.5" opacity="0.58"/>
<line x1="313.9" y1="117.2" x2="445.8" y2="90.8" stroke="#7a7673" stroke-width="0.6" opacity="0.64"/>
<line x1="628.9" y1="332.7" x2="772.0" y2="304.1" stroke="#55524f" stroke-width="1.0" opacity="0.47"/>
<line x1="1330.0" y1="68.8" x2="1468.3" y2="41.2" stroke="#7a7673" stroke-width="1.2" opacity="0.31"/>
<line x1="28.3" y1="426.9" x2="228.1" y2="386.9" stroke="#4f4c4a" stroke-width="1.1" opacity="0.49"/>
<line x1="1240.2" y1="46.4" x2="1392.3" y2="15.9" stroke="#7a7673" stroke-width="0.7" opacity="0.34"/>
<line x1="900.8" y1="212.9" x2="1063.1" y2="180.4" stroke="#7a7673" stroke-width="1.4" opacity="0.38"/>
<line x1="582.3" y1="256.8" x2="706.5" y2="231.9" stroke="#55524f" stroke-width="0.9" opacity="0.63"/>
<line x1="537.5" y1="300.8" x2="613.7" y2="285.6" stroke="#7a7673" stroke-width="0.9" opacity="0.38"/>
<line x1="663.4" y1="91.9" x2="726.1" y2="79.3" stroke="#7a7673" stroke-width="0.9" opacity="0.53"/>
<line x1="866.4" y1="452.7" x2="903.2" y2="445.4" stroke="#7a7673" stroke-width="1.2" opacity="0.46"/>
<line x1="779.9" y1="243.8" x2="828.3" y2="234.1" stroke="#4f4c4a" stroke-width="0.8" opacity="0.67"/>
<line x1="829.2" y1="384.4" x2="993.3" y2="351.6" stroke="#7a7673" stroke-width="1.2" opacity="0.55"/>
<line x1="855.0" y1="405.2" x2="986.3" y2="378.9" stroke="#7a7673" stroke-width="0.7" opacity="0.32"/>
<line x1="864.6" y1="366.7" x2="924.2" y2="354.7" stroke="#7a7673" stroke-width="0.8" opacity="0.31"/>
<line x1="1065.2" y1="523.1" x2="1206.6" y2="494.8" stroke="#55524f" stroke-width="1.5" opacity="0.36"/>
<line x1="403.2" y1="412.6" x2="579.8" y2="377.3" stroke="#4f4c4a" stroke-width="1.0" opacity="0.43"/>
<line x1="575.9" y1="375.6" x2="764.6" y2="337.8" stroke="#4f4c4a" stroke-width="1.1" opacity="0.51"/>
<line x1="1136.6" y1="447.1" x2="1238.2" y2="426.8" stroke="#7a7673" stroke-width="1.5" opacity="0.48"/>
<line x1="-16.9" y1="237.7" x2="113.7" y2="211.5" stroke="#7a7673" stroke-width="1.6" opacity="0.49"/>
<line x1="549.9" y1="83.3" x2="689.4" y2="55.4" stroke="#4f4c4a" stroke-width="1.5" opacity="0.55"/>
<line x1="570.6" y1="33.1" x2="714.4" y2="4.3" stroke="#4f4c4a" stroke-width="0.8" opacity="0.35"/>
<line x1="635.1" y1="177.2" x2="761.9" y2="151.8" stroke="#55524f" stroke-width="1.3" opacity="0.37"/>
<line x1="34.3" y1="447.2" x2="185.7" y2="417.0" stroke="#4f4c4a" stroke-width="1.3" opacity="0.33"/>
<line x1="857.5" y1="412.1" x2="965.8" y2="390.5" stroke="#55524f" stroke-width="1.5" opacity="0.32"/>
<line x1="8.5" y1="60.8" x2="188.7" y2="24.8" stroke="#7a7673" stroke-width="1.4" opacity="0.33"/>
<line x1="405.6" y1="423.1" x2="463.9" y2="411.4" stroke="#55524f" stroke-width="1.2" opacity="0.43"/>
<line x1="1313.1" y1="422.2" x2="1423.0" y2="400.2" stroke="#4f4c4a" stroke-width="0.7" opacity="0.62"/>
<line x1="479.9" y1="377.3" x2="617.0" y2="349.9" stroke="#55524f" stroke-width="1.1" opacity="0.61"/>
<line x1="607.3" y1="175.3" x2="765.6" y2="143.6" stroke="#55524f" stroke-width="0.9" opacity="0.32"/>
<line x1="1348.9" y1="408.9" x2="1519.6" y2="374.8" stroke="#55524f" stroke-width="1.5" opacity="0.59"/>
<line x1="-14.9" y1="109.8" x2="156.6" y2="75.5" stroke="#7a7673" stroke-width="1.0" opacity="0.66"/>
<line x1="499.0" y1="398.9" x2="631.3" y2="372.4" stroke="#4f4c4a" stroke-width="1.4" opacity="0.41"/>
<line x1="-34.6" y1="170.5" x2="67.2" y2="150.1" stroke="#7a7673" stroke-width="1.5" opacity="0.61"/>
<line x1="1077.3" y1="184.3" x2="1131.3" y2="173.5" stroke="#7a7673" stroke-width="0.7" opacity="0.69"/>
<line x1="1097.5" y1="324.7" x2="1259.6" y2="292.3" stroke="#55524f" stroke-width="0.9" opacity="0.33"/>
<line x1="750.9" y1="459.9" x2="815.0" y2="447.1" stroke="#7a7673" stroke-width="1.5" opacity="0.39"/>
</g>
<polygon points="108.0,305.0 982.7,130.4 982.7,144.7 112.0,318.0" fill="#6a6866" />
<line x1="108.0" y1="305.0" x2="982.7" y2="130.4" stroke="#85827f" stroke-width="1.2" />
<polygon points="63.0,256.0 108.0,305.0 112.0,318.0 63.0,267.0" fill="#76736f" />
<polygon points="982.7,130.4 1104.0,233.0 1104.0,243.5 982.7,144.7" fill="#77746f" />
<polygon points="1104.0,233.0 1386.0,171.5 1386.0,183.0 1104.0,243.5" fill="#716e6b" />
<line x1="930.0" y1="84.0" x2="982.7" y2="130.4" stroke="#575757" stroke-width="1.5" />
<rect x="119.0" y="318.0" width="22.0" height="66.0" fill="#252527" />
<rect x="538.0" y="268.0" width="22.0" height="27.0" fill="#252527" />
<rect x="936.0" y="145.0" width="21.0" height="68.0" fill="#252527" />
<polygon points="1104.0,242.5 1386.0,182.0 1373.0,614.0 1113.0,664.0" fill="#171717" />
<polygon points="1104.0,243.0 1122.0,241.0 1113.0,690.0 1089.0,690.0" fill="#252527" />
<rect x="1087.0" y="678.0" width="26.0" height="19.0" fill="#1f1f1f"  rx="6"/>
<polygon points="1367.0,184.0 1385.0,183.0 1373.0,612.0 1358.0,614.0" fill="#252527" />
<rect x="1348.0" y="612.0" width="22.0" height="23.0" fill="#1f1f1f"  rx="6"/>
<polygon points="1122.0,245.0 1367.0,190.0 1365.0,300.0 1122.0,352.0" fill="url(#fab)" />
<polygon points="1122.0,356.0 1365.0,304.0 1361.0,452.0 1119.5,502.0" fill="url(#fab)" />
<polygon points="1119.5,507.0 1361.0,456.0 1357.8,598.0 1115.0,643.0" fill="url(#fab)" />
<line x1="1204.0" y1="283.5" x2="1293.0" y2="263.0" stroke="#151515" stroke-width="9" stroke-linecap="round"/>
<ellipse cx="1198.0" cy="283.5" rx="8.5" ry="6.8" fill="#161616" transform="rotate(-11.5 1198.0 283.5)"/>
<ellipse cx="1198.0" cy="286.0" rx="6" ry="2.2" fill="#3a3a3a" transform="rotate(-11.5 1198.0 283.5)"/>
<ellipse cx="1299.0" cy="263.0" rx="8.5" ry="6.8" fill="#161616" transform="rotate(-11.5 1299.0 263.0)"/>
<ellipse cx="1299.0" cy="265.5" rx="6" ry="2.2" fill="#3a3a3a" transform="rotate(-11.5 1299.0 263.0)"/>
<line x1="1206.0" y1="286.5" x2="1291.0" y2="266.0" stroke="#3a3a3a" stroke-width="1.5" />
<line x1="1199.0" y1="415.0" x2="1287.0" y2="401.0" stroke="#151515" stroke-width="9" stroke-linecap="round"/>
<ellipse cx="1193.0" cy="415.0" rx="8.5" ry="6.8" fill="#161616" transform="rotate(-8.0 1193.0 415.0)"/>
<ellipse cx="1193.0" cy="417.5" rx="6" ry="2.2" fill="#3a3a3a" transform="rotate(-8.0 1193.0 415.0)"/>
<ellipse cx="1293.0" cy="401.0" rx="8.5" ry="6.8" fill="#161616" transform="rotate(-8.0 1293.0 401.0)"/>
<ellipse cx="1293.0" cy="403.5" rx="6" ry="2.2" fill="#3a3a3a" transform="rotate(-8.0 1293.0 401.0)"/>
<line x1="1201.0" y1="418.0" x2="1285.0" y2="404.0" stroke="#3a3a3a" stroke-width="1.5" />
<line x1="1197.5" y1="564.0" x2="1286.0" y2="543.7" stroke="#151515" stroke-width="9" stroke-linecap="round"/>
<ellipse cx="1191.5" cy="564.0" rx="8.5" ry="6.8" fill="#161616" transform="rotate(-11.4 1191.5 564.0)"/>
<ellipse cx="1191.5" cy="566.5" rx="6" ry="2.2" fill="#3a3a3a" transform="rotate(-11.4 1191.5 564.0)"/>
<ellipse cx="1292.0" cy="543.7" rx="8.5" ry="6.8" fill="#161616" transform="rotate(-11.4 1292.0 543.7)"/>
<ellipse cx="1292.0" cy="546.2" rx="6" ry="2.2" fill="#3a3a3a" transform="rotate(-11.4 1292.0 543.7)"/>
<line x1="1199.5" y1="567.0" x2="1284.0" y2="546.7" stroke="#3a3a3a" stroke-width="1.5" />
<line x1="1335.0" y1="306.0" x2="1365.0" y2="300.0" stroke="#6a6a6a" stroke-width="1.2" />
<line x1="1331.0" y1="458.0" x2="1361.0" y2="452.0" stroke="#6a6a6a" stroke-width="1.2" />
<line x1="1327.8" y1="604.0" x2="1357.8" y2="598.0" stroke="#6a6a6a" stroke-width="1.2" />
<path d="M606,458 C618,505 650,590 700,668 C745,738 808,784 870,800 C905,809 940,811 964,809 C995,806 1016,792 1014,778 C1011,760 985,752 959,753 C930,754 905,768 905,786 C905,805 930,823 964,828 C990,831 1020,831 1080,824" fill="none" stroke="#1c1c1e" stroke-width="6" stroke-linecap="round"/>
<polygon points="1080.0,818.0 1090.0,807.0 1118.0,804.0 1120.0,830.0 1088.0,832.0 1080.0,828.0" fill="#1a1a1a" />
<rect x="1118.0" y="811.0" width="12.0" height="3.0" fill="#bbb" />
<rect x="1118.0" y="821.0" width="12.0" height="3.0" fill="#bbb" />
<polygon points="5.0,1084.5 245.8,1300.4 245.8,1417.5 13.0,1205.0" fill="#3e3f43" />
<polygon points="245.8,1300.4 468.4,1161.0 460.0,1283.0 245.8,1417.5" fill="#35363a" />
<polygon points="222.6,971.6 468.4,1161.0 245.8,1300.4 5.0,1084.5" fill="url(#b1rw)" />
<polygon points="221.7,1095.0 99.6,1160.0 243.5,1290.0 371.0,1211.0" fill="url(#b1fl)" />
<polygon points="222.6,971.6 221.7,1095.0 99.6,1160.0 5.0,1084.5" fill="url(#b1lw)" />
<line x1="5.0" y1="1084.5" x2="245.8" y2="1300.4" stroke="#0c0c0c" stroke-width="2" />
<line x1="245.8" y1="1300.4" x2="468.4" y2="1161.0" stroke="#0c0c0c" stroke-width="2" />
<line x1="222.6" y1="971.6" x2="5.0" y2="1084.5" stroke="#0c0c0c" stroke-width="3" />
<line x1="222.6" y1="971.6" x2="468.4" y2="1161.0" stroke="#0c0c0c" stroke-width="3" />
<path d="M316,1318 L326,1306 L398,1266 L408,1262" fill="none" stroke="#0e0e0e" stroke-width="9" stroke-linecap="round"/>
<polygon points="498.0,1056.7 741.0,1270.9 741.0,1417.5 509.0,1209.0" fill="#36363a" />
<polygon points="741.0,1270.9 967.6,1134.0 957.0,1288.0 741.0,1417.5" fill="#2e2f31" />
<polygon points="719.3,945.2 967.6,1134.0 741.0,1270.9 498.0,1056.7" fill="url(#b2rw)" />
<polygon points="720.0,1092.0 613.0,1148.0 738.0,1258.0 834.0,1185.0" fill="url(#b2fl)" />
<polygon points="719.3,945.2 720.0,1092.0 613.0,1148.0 498.0,1056.7" fill="url(#b2lw)" />
<line x1="498.0" y1="1056.7" x2="741.0" y2="1270.9" stroke="#0c0c0c" stroke-width="2" />
<line x1="741.0" y1="1270.9" x2="967.6" y2="1134.0" stroke="#0c0c0c" stroke-width="2" />
<line x1="719.3" y1="945.2" x2="498.0" y2="1056.7" stroke="#0c0c0c" stroke-width="3" />
<line x1="719.3" y1="945.2" x2="967.6" y2="1134.0" stroke="#0c0c0c" stroke-width="3" />
<line x1="557.0" y1="1103.5" x2="764.0" y2="993.8" stroke="#0d0d0e" stroke-width="5" stroke-linecap="round"/>
<line x1="560.0" y1="1100.0" x2="762.0" y2="991.0" stroke="#3a3a3c" stroke-width="1" />
<line x1="732.0" y1="1253.0" x2="942.0" y2="1132.0" stroke="#0d0d0e" stroke-width="6" stroke-linecap="round"/>
<line x1="735.0" y1="1249.0" x2="940.0" y2="1129.0" stroke="#3a3a3c" stroke-width="1" />
<path d="M816,1302 L826,1290 L898,1252 L906,1240" fill="none" stroke="#0e0e0e" stroke-width="8" stroke-linecap="round"/>
<circle cx="514" cy="1087" r="2.5" fill="#aaa"/>
<circle cx="535.8" cy="1105" r="2.5" fill="#aaa"/>
<circle cx="715.7" cy="1262" r="2.5" fill="#aaa"/>
<circle cx="733.7" cy="974" r="2.5" fill="#aaa"/>
<circle cx="757" cy="990" r="2.5" fill="#aaa"/>
<polygon points="1191.2,969.0 1255.6,958.7 1255.6,990.9 1192.3,1001.2" fill="#2a2a2a" />
<text x="1207" y="994" font-size="12.5" font-weight="bold" fill="#f0f0f0" transform="rotate(-9 1207 994)">09:30</text>
<polygon points="1258.7,957.6 1320.0,945.2 1320.0,979.4 1258.7,990.9" fill="#2a2a2a" />
<text x="1273" y="980" font-size="12.5" font-weight="bold" fill="#f0f0f0" transform="rotate(-11 1273 980)">09:30</text>
<line x1="1324.0" y1="1030.0" x2="1325.0" y2="1073.0" stroke="#1e1e1e" stroke-width="2.6" stroke-linecap="round"/>
<polygon points="1325.0,990.0 1358.4,1008.5 1360.5,1104.0 1326.0,1064.6" fill="#2b2b2b" />
<line x1="1146.0" y1="1035.0" x2="1148.0" y2="1112.0" stroke="#1e1e1e" stroke-width="3" stroke-linecap="round"/>
<polygon points="1160.0,1073.7 1198.0,1078.0 1198.0,1133.5 1160.0,1129.0" fill="#dedede" />
<polygon points="1160.0,1073.7 1172.0,1070.0 1172.0,1126.0 1160.0,1129.0" fill="#c4c4c4" />
<line x1="1148.0" y1="1053.0" x2="1175.0" y2="1088.0" stroke="#1e1e1e" stroke-width="2.6" stroke-linecap="round"/>
<line x1="1175.0" y1="1088.0" x2="1211.0" y2="1081.0" stroke="#1e1e1e" stroke-width="2.6" stroke-linecap="round"/>
<line x1="1149.0" y1="1102.0" x2="1175.0" y2="1142.0" stroke="#1e1e1e" stroke-width="2.6" stroke-linecap="round"/>
<line x1="1175.0" y1="1142.0" x2="1212.0" y2="1132.0" stroke="#1e1e1e" stroke-width="2.6" stroke-linecap="round"/>
<polygon points="1178.0,1066.5 1197.0,1064.0 1199.0,1081.0 1180.0,1084.0" fill="#e8e8e8" />
<line x1="1176.5" y1="1069.0" x2="1177.5" y2="1149.0" stroke="#1e1e1e" stroke-width="3.2" stroke-linecap="round"/>
<line x1="1213.5" y1="1059.0" x2="1214.5" y2="1139.5" stroke="#1e1e1e" stroke-width="3" stroke-linecap="round"/>
<line x1="1216.0" y1="1081.0" x2="1324.0" y2="1062.0" stroke="#1e1e1e" stroke-width="3" stroke-linecap="round"/>
<ellipse cx="1166" cy="1092" rx="4" ry="7" fill="#c9a58a"/>
<polygon points="1142.6,1030.7 1322.0,997.0 1360.5,1029.3 1174.2,1069.0" fill="url(#cyg)" />
<polygon points="1174.2,1069.0 1360.5,1029.3 1360.5,1033.0 1174.2,1073.0" fill="#4a4a4a" />
<polygon points="1142.6,1030.7 1174.2,1069.0 1174.2,1073.0 1142.6,1034.0" fill="#4a4a4a" />
<polygon points="1237.6,1036.6 1290.0,1026.0 1291.0,1032.4 1242.0,1042.6" fill="#ececec" />
<polygon points="1188.6,1040.0 1204.0,1036.6 1213.7,1047.4 1197.0,1051.0" fill="#cfe6e8" />
<polygon points="1212.0,1012.0 1250.0,1005.0 1256.0,1009.0 1218.0,1016.0" fill="#1c1c1c" />
<polygon points="1142.0,1012.7 1379.0,963.9 1418.6,995.0 1358.4,1008.5 1325.0,990.0 1146.7,1022.3" fill="#6a6a6a" />
<polygon points="1146.7,1022.3 1325.0,990.0 1325.0,993.0 1146.7,1025.3" fill="#3a3a3a" />
<line x1="1150.0" y1="1024.0" x2="1150.0" y2="1038.0" stroke="#1e1e1e" stroke-width="2.4" stroke-linecap="round"/>
<line x1="1157.0" y1="1023.0" x2="1157.0" y2="1039.0" stroke="#1e1e1e" stroke-width="2.4" stroke-linecap="round"/>
<line x1="1322.0" y1="993.0" x2="1322.0" y2="1003.0" stroke="#1e1e1e" stroke-width="2" stroke-linecap="round"/>
<polygon points="1218.0,1001.0 1238.0,998.0 1241.0,1005.0 1221.0,1008.0" fill="#9a9a9a" />
<polygon points="1270.0,990.0 1290.0,987.0 1293.0,994.0 1273.0,997.0" fill="#9a9a9a" />
<polygon points="1358.4,1008.5 1418.6,995.0 1418.6,998.0 1358.4,1011.5" fill="#505050" />
<polygon points="1358.4,1011.5 1418.6,998.0 1415.5,1089.5 1360.5,1104.0" fill="#353535" />
<line x1="1359.1" y1="1043.0" x2="1417.5" y2="1029.1" stroke="#1c1c1c" stroke-width="1.6" />
<line x1="1359.8" y1="1073.5" x2="1416.5" y2="1059.3" stroke="#1c1c1c" stroke-width="1.6" />
<line x1="1377.0" y1="1024.0" x2="1401.0" y2="1019.0" stroke="#888" stroke-width="1.2" />
<line x1="1378.0" y1="1055.0" x2="1402.0" y2="1050.0" stroke="#888" stroke-width="1.2" />
<line x1="1379.0" y1="1085.0" x2="1403.0" y2="1080.0" stroke="#888" stroke-width="1.2" />
<line x1="1360.0" y1="1100.0" x2="1360.5" y2="1108.0" stroke="#1e1e1e" stroke-width="3" stroke-linecap="round"/>
<line x1="1415.0" y1="1086.0" x2="1415.0" y2="1093.0" stroke="#1e1e1e" stroke-width="3" stroke-linecap="round"/>
<polygon points="1344.0,966.0 1386.0,961.0 1389.0,990.0 1347.0,995.0" fill="#d4d4d4" />
<polygon points="1344.0,966.0 1386.0,961.0 1388.0,968.0 1346.0,973.0" fill="#ececec" />
<polygon points="1360.0,985.0 1380.0,982.0 1384.0,993.0 1363.0,996.0" fill="#f4f4f4" />
<ellipse cx="1167" cy="1004" rx="9" ry="11" fill="#a4a8a8"/>
<path d="M1254,1051 C1258,1075 1275,1108 1300,1124 C1315,1133 1340,1132 1340,1124 C1340,1116 1322,1116 1320,1124 C1320,1132 1345,1131 1362,1130" fill="none" stroke="#1c1c1c" stroke-width="1.8"/>
<polygon points="1214.8,1182.5 1276.0,1193.9 1276.0,1226.0 1215.9,1214.6" fill="#2a2a2a" />
<text x="1232" y="1207" font-size="12.5" font-weight="bold" fill="#f0f0f0" transform="rotate(9 1232 1207)">09:30</text>
<polygon points="1280.2,1195.0 1343.6,1206.3 1343.6,1237.5 1280.2,1226.0" fill="#2a2a2a" />
<text x="1296" y="1220" font-size="12.5" font-weight="bold" fill="#f0f0f0" transform="rotate(10 1296 1220)">09:30</text>
<polygon points="1171.7,1245.0 1204.0,1232.0 1207.0,1307.0 1175.0,1341.8" fill="#2b2b2b" />
<line x1="1210.0" y1="1273.8" x2="1211.0" y2="1308.0" stroke="#1e1e1e" stroke-width="3" stroke-linecap="round"/>
<line x1="1211.0" y1="1303.0" x2="1321.0" y2="1326.6" stroke="#1e1e1e" stroke-width="3" stroke-linecap="round"/>
<polygon points="1338.0,1316.0 1365.0,1321.0 1365.0,1374.0 1338.0,1369.0" fill="#dedede" />
<line x1="1390.0" y1="1294.0" x2="1390.5" y2="1348.6" stroke="#1e1e1e" stroke-width="3" stroke-linecap="round"/>
<line x1="1321.0" y1="1320.0" x2="1390.0" y2="1308.0" stroke="#1e1e1e" stroke-width="2.6" stroke-linecap="round"/>
<line x1="1321.0" y1="1320.0" x2="1360.0" y2="1333.0" stroke="#1e1e1e" stroke-width="2.6" stroke-linecap="round"/>
<line x1="1360.0" y1="1333.0" x2="1390.0" y2="1310.0" stroke="#1e1e1e" stroke-width="2.6" stroke-linecap="round"/>
<line x1="1321.0" y1="1370.0" x2="1360.0" y2="1384.0" stroke="#1e1e1e" stroke-width="2.6" stroke-linecap="round"/>
<line x1="1360.0" y1="1384.0" x2="1390.0" y2="1346.0" stroke="#1e1e1e" stroke-width="2.6" stroke-linecap="round"/>
<line x1="1321.0" y1="1292.7" x2="1322.6" y2="1377.4" stroke="#1e1e1e" stroke-width="3.2" stroke-linecap="round"/>
<line x1="1359.0" y1="1309.6" x2="1360.0" y2="1386.0" stroke="#1e1e1e" stroke-width="3" stroke-linecap="round"/>
<polygon points="1335.0,1311.0 1362.0,1316.0 1360.0,1326.0 1333.0,1321.0" fill="#e8e8e8" />
<ellipse cx="1372" cy="1335" rx="4" ry="7" fill="#c9a58a"/>
<polygon points="1175.0,1265.5 1204.0,1235.0 1390.5,1262.0 1387.0,1292.7" fill="url(#cyg2)" />
<polygon points="1175.0,1265.5 1387.0,1292.7 1387.0,1296.5 1175.0,1269.5" fill="#4a4a4a" />
<polygon points="1246.0,1264.0 1298.0,1272.0 1296.0,1279.5 1243.0,1271.0" fill="#ececec" />
<polygon points="1323.0,1278.0 1339.0,1281.0 1335.0,1290.0 1319.0,1287.0" fill="#cfe6e8" />
<polygon points="1276.0,1253.0 1312.0,1258.0 1310.0,1262.0 1274.0,1257.0" fill="#1c1c1c" />
<polygon points="1117.5,1235.0 1146.0,1211.0 1193.0,1210.5 1393.4,1250.0 1388.0,1261.3 1205.5,1228.0 1171.7,1245.0" fill="#6a6a6a" />
<polygon points="1205.5,1228.0 1388.0,1261.3 1388.0,1264.3 1205.5,1231.0" fill="#3a3a3a" />
<line x1="1383.0" y1="1263.0" x2="1383.0" y2="1276.0" stroke="#1e1e1e" stroke-width="2.4" stroke-linecap="round"/>
<line x1="1376.0" y1="1262.0" x2="1376.0" y2="1274.0" stroke="#1e1e1e" stroke-width="2.4" stroke-linecap="round"/>
<line x1="1208.0" y1="1231.0" x2="1208.0" y2="1240.0" stroke="#1e1e1e" stroke-width="2" stroke-linecap="round"/>
<polygon points="1232.0,1229.0 1252.0,1232.0 1250.0,1238.0 1230.0,1235.0" fill="#9a9a9a" />
<polygon points="1302.0,1241.0 1322.0,1244.0 1320.0,1250.0 1300.0,1247.0" fill="#9a9a9a" />
<polygon points="1117.5,1235.0 1171.7,1245.0 1175.0,1341.8 1121.0,1328.0" fill="#353535" />
<line x1="1118.7" y1="1266.6" x2="1172.8" y2="1277.9" stroke="#1c1c1c" stroke-width="1.6" />
<line x1="1119.8" y1="1297.3" x2="1173.9" y2="1309.9" stroke="#1c1c1c" stroke-width="1.6" />
<line x1="1133.0" y1="1252.0" x2="1157.0" y2="1256.0" stroke="#888" stroke-width="1.2" />
<line x1="1134.0" y1="1283.0" x2="1158.0" y2="1287.0" stroke="#888" stroke-width="1.2" />
<line x1="1135.0" y1="1314.0" x2="1159.0" y2="1318.0" stroke="#888" stroke-width="1.2" />
<line x1="1121.0" y1="1326.0" x2="1121.0" y2="1333.0" stroke="#1e1e1e" stroke-width="3" stroke-linecap="round"/>
<line x1="1175.0" y1="1338.0" x2="1175.0" y2="1346.0" stroke="#1e1e1e" stroke-width="3" stroke-linecap="round"/>
<polygon points="1145.0,1202.0 1190.0,1206.0 1192.0,1230.0 1147.0,1226.0" fill="#d4d4d4" />
<polygon points="1145.0,1202.0 1190.0,1206.0 1190.0,1213.0 1145.0,1209.0" fill="#ececec" />
<polygon points="1152.0,1220.0 1175.0,1223.0 1172.0,1233.0 1149.0,1230.0" fill="#f4f4f4" />
<ellipse cx="1366" cy="1240" rx="9" ry="11" fill="#a4a8a8"/>
<path d="M1280,1292 C1275,1320 1258,1345 1230,1360 C1215,1368 1195,1368 1196,1360 C1197,1352 1215,1355 1214,1363 C1212,1370 1190,1367 1172,1366" fill="none" stroke="#1c1c1c" stroke-width="1.8"/>
<path d="M1121,1128 C1098,1138 1088,1160 1096,1170 L1077,1176 L1112,1194 L1129,1162 L1108,1166 C1106,1152 1112,1140 1121,1128 Z" fill="url(#arrL)" />
<path d="M1385,1191 C1402,1182 1410,1168 1408,1150 L1443,1157 L1412.5,1133 L1389,1159 L1398,1158 C1397,1172 1393,1182 1385,1191 Z" fill="url(#arrR)" />
<line x1="67.9" y1="231.0" x2="1178.1" y2="7.0" stroke="#1cc4d1" stroke-width="6.2" />
<polygon points="53.0,234.0 72.9,236.6 66.4,231.3 70.3,223.9" fill="#1cc4d1" />
<polygon points="1193.0,4.0 1175.7,14.1 1179.6,6.7 1173.1,1.4" fill="#1cc4d1" />
<line x1="1219.5" y1="14.8" x2="1396.0" y2="152.1" stroke="#1cc4d1" stroke-width="6.2" />
<polygon points="1207.5,5.5 1218.5,22.3 1218.3,13.9 1226.5,12.0" fill="#1cc4d1" />
<polygon points="1408.0,161.4 1389.0,154.9 1397.2,153.0 1397.0,144.6" fill="#1cc4d1" />
<line x1="1410.5" y1="188.2" x2="1395.5" y2="621.8" stroke="#1cc4d1" stroke-width="6.2" />
<polygon points="1411.0,173.0 1403.8,191.8 1410.5,186.7 1416.8,192.2" fill="#1cc4d1" />
<polygon points="1395.0,637.0 1389.2,617.8 1395.5,623.3 1402.2,618.2" fill="#1cc4d1" />
<line x1="1120.5" y1="229.8" x2="1371.1" y2="175.2" stroke="#1cc4d1" stroke-width="6.2" />
<polygon points="1105.6,233.0 1125.5,235.3 1119.0,230.1 1122.8,222.6" fill="#1cc4d1" />
<polygon points="1386.0,172.0 1368.8,182.4 1372.6,174.9 1366.1,169.7" fill="#1cc4d1" />
<line x1="983.0" y1="146.8" x2="983.0" y2="210.1" stroke="#1cc4d1" stroke-width="6.2" />
<polygon points="983.0,131.6 976.5,150.6 983.0,145.3 989.5,150.6" fill="#1cc4d1" />
<polygon points="983.0,225.3 976.5,206.3 983.0,211.6 989.5,206.3" fill="#1cc4d1" />
<line x1="57.2" y1="283.5" x2="93.4" y2="321.9" stroke="#1cc4d1" stroke-width="6.2" />
<polygon points="46.8,272.4 55.1,290.7 56.2,282.4 64.6,281.8" fill="#1cc4d1" />
<polygon points="103.8,333.0 86.0,323.6 94.4,323.0 95.5,314.7" fill="#1cc4d1" />
<line x1="221.9" y1="510.3" x2="1094.1" y2="320.7" stroke="#1cc4d1" stroke-width="6.2" />
<polygon points="207.0,513.5 226.9,515.8 220.4,510.6 224.2,503.1" fill="#1cc4d1" />
<polygon points="1109.0,317.5 1091.8,327.9 1095.6,320.4 1089.1,315.2" fill="#1cc4d1" />
<line x1="1081.6" y1="362.7" x2="1072.4" y2="681.8" stroke="#1cc4d1" stroke-width="6.2" />
<polygon points="1082.0,347.5 1075.0,366.3 1081.6,361.2 1088.0,366.7" fill="#1cc4d1" />
<polygon points="1072.0,697.0 1066.0,677.8 1072.4,683.3 1079.0,678.2" fill="#1cc4d1" />
<line x1="194.2" y1="532.8" x2="195.1" y2="610.8" stroke="#1cc4d1" stroke-width="6.2" />
<polygon points="194.0,517.6 187.7,536.7 194.2,531.3 200.7,536.5" fill="#1cc4d1" />
<polygon points="195.3,626.0 188.6,607.1 195.1,612.3 201.6,606.9" fill="#1cc4d1" />
<line x1="198.0" y1="651.7" x2="203.6" y2="891.8" stroke="#1cc4d1" stroke-width="6.2" />
<polygon points="197.6,636.5 191.6,655.6 197.9,650.2 204.5,655.3" fill="#1cc4d1" />
<polygon points="204.0,907.0 197.1,888.2 203.7,893.3 210.0,887.9" fill="#1cc4d1" />
<line x1="290.7" y1="639.9" x2="292.0" y2="668.0" stroke="#1cc4d1" stroke-width="6.2" />
<polygon points="290.0,624.7 284.4,644.0 290.6,638.4 297.4,643.4" fill="#1cc4d1" />
<line x1="299.0" y1="650.0" x2="299.0" y2="670.8" stroke="#1cc4d1" stroke-width="6.2" />
<polygon points="299.0,686.0 292.5,667.0 299.0,672.3 305.5,667.0" fill="#1cc4d1" />
<line x1="257.5" y1="884.2" x2="389.8" y2="852.5" stroke="#1cc4d1" stroke-width="6.2" />
<polygon points="242.7,887.7 262.7,889.6 256.0,884.5 259.7,877.0" fill="#1cc4d1" />
<polygon points="404.6,849.0 387.6,859.7 391.3,852.2 384.6,847.1" fill="#1cc4d1" />
<line x1="221.0" y1="988.2" x2="221.0" y2="1079.3" stroke="#1cc4d1" stroke-width="6.2" />
<polygon points="221.0,973.0 214.5,992.0 221.0,986.7 227.5,992.0" fill="#1cc4d1" />
<polygon points="221.0,1094.5 214.5,1075.5 221.0,1080.8 227.5,1075.5" fill="#1cc4d1" />
<line x1="14.8" y1="1101.0" x2="234.3" y2="1292.0" stroke="#1cc4d1" stroke-width="6.2" />
<polygon points="3.3,1091.0 13.4,1108.4 13.6,1100.0 21.9,1098.6" fill="#1cc4d1" />
<polygon points="245.8,1302.0 227.2,1294.4 235.5,1293.0 235.7,1284.6" fill="#1cc4d1" />
<line x1="263.7" y1="1294.0" x2="458.8" y2="1174.0" stroke="#1cc4d1" stroke-width="6.2" />
<polygon points="250.8,1302.0 270.4,1297.6 262.4,1294.8 263.6,1286.5" fill="#1cc4d1" />
<polygon points="471.7,1166.0 458.9,1181.5 460.1,1173.2 452.1,1170.4" fill="#1cc4d1" />
<line x1="719.3" y1="971.2" x2="719.3" y2="1070.3" stroke="#1cc4d1" stroke-width="6.2" />
<polygon points="719.3,956.0 712.8,975.0 719.3,969.7 725.8,975.0" fill="#1cc4d1" />
<polygon points="719.3,1085.5 712.8,1066.5 719.3,1071.8 725.8,1066.5" fill="#1cc4d1" />
<line x1="509.4" y1="1068.6" x2="727.6" y2="1260.9" stroke="#1cc4d1" stroke-width="6.2" />
<polygon points="498.0,1058.5 508.0,1075.9 508.3,1067.5 516.6,1066.2" fill="#1cc4d1" />
<polygon points="739.0,1271.0 720.4,1263.3 728.7,1262.0 729.0,1253.6" fill="#1cc4d1" />
<line x1="760.9" y1="1262.9" x2="956.5" y2="1140.1" stroke="#1cc4d1" stroke-width="6.2" />
<polygon points="748.0,1271.0 767.5,1266.4 759.6,1263.7 760.6,1255.4" fill="#1cc4d1" />
<polygon points="969.4,1132.0 956.8,1147.6 957.8,1139.3 949.9,1136.6" fill="#1cc4d1" />
<text x="605.4" y="98.0" font-size="40.0" textLength="64.4" lengthAdjust="spacingAndGlyphs" fill="#1cc4d1" stroke="#1cc4d1" stroke-width="0.2">59''</text>
<text x="1310.4" y="72.4" font-size="40.6" textLength="87.4" lengthAdjust="spacingAndGlyphs" fill="#1cc4d1" stroke="#1cc4d1" stroke-width="0.2">18.5''</text>
<text x="897.8" y="200.0" font-size="41.4" textLength="74.6" lengthAdjust="spacingAndGlyphs" fill="#1cc4d1" stroke="#1cc4d1" stroke-width="0.2">4.7''</text>
<text x="1216.3" y="253.0" font-size="41.4" textLength="87.5" lengthAdjust="spacingAndGlyphs" fill="#1cc4d1" stroke="#1cc4d1" stroke-width="0.2">15.7''</text>
<text x="6.0" y="342.0" font-size="40.0" textLength="63.2" lengthAdjust="spacingAndGlyphs" fill="#1cc4d1" stroke="#1cc4d1" stroke-width="0.2">7.1''</text>
<text x="612.7" y="394.0" font-size="41.4" textLength="97.5" lengthAdjust="spacingAndGlyphs" fill="#1cc4d1" stroke="#1cc4d1" stroke-width="0.2">43.3''</text>
<text x="1267.4" y="404.0" font-size="40.0" textLength="98.4" lengthAdjust="spacingAndGlyphs" fill="#1cc4d1" stroke="#1cc4d1" stroke-width="0.2">34.3''</text>
<text x="967.3" y="523.0" font-size="42.9" textLength="96.2" lengthAdjust="spacingAndGlyphs" fill="#1cc4d1" stroke="#1cc4d1" stroke-width="0.2">29.5''</text>
<text x="101.9" y="587.0" font-size="40.0" textLength="70.7" lengthAdjust="spacingAndGlyphs" fill="#1cc4d1" stroke="#1cc4d1" stroke-width="0.2">7.5''</text>
<text x="319.9" y="723.0" font-size="41.4" textLength="70.3" lengthAdjust="spacingAndGlyphs" fill="#1cc4d1" stroke="#1cc4d1" stroke-width="0.2">3.5''</text>
<text x="101.4" y="810.0" font-size="39.1" textLength="88.0" lengthAdjust="spacingAndGlyphs" fill="#1cc4d1" stroke="#1cc4d1" stroke-width="0.2">19.3''</text>
<text x="307.3" y="912.7" font-size="41.6" textLength="76.0" lengthAdjust="spacingAndGlyphs" fill="#1cc4d1" stroke="#1cc4d1" stroke-width="0.2">9.4''</text>
<text x="242.3" y="1068.0" font-size="42.9" textLength="69.2" lengthAdjust="spacingAndGlyphs" fill="#1cc4d1" stroke="#1cc4d1" stroke-width="0.2">7.5''</text>
<text x="74.7" y="1240.6" font-size="42.7" textLength="57.2" lengthAdjust="spacingAndGlyphs" fill="#1cc4d1" stroke="#1cc4d1" stroke-width="0.2">18''</text>
<text x="360.4" y="1277.0" font-size="40.0" textLength="87.2" lengthAdjust="spacingAndGlyphs" fill="#1cc4d1" stroke="#1cc4d1" stroke-width="0.2">13.8''</text>
<text x="739.5" y="1038.8" font-size="38.6" textLength="45.3" lengthAdjust="spacingAndGlyphs" fill="#1cc4d1" stroke="#1cc4d1" stroke-width="0.2">11''</text>
<text x="570.2" y="1211.5" font-size="41.1" textLength="58.2" lengthAdjust="spacingAndGlyphs" fill="#1cc4d1" stroke="#1cc4d1" stroke-width="0.2">18''</text>
<text x="845.4" y="1249.3" font-size="41.1" textLength="88.9" lengthAdjust="spacingAndGlyphs" fill="#1cc4d1" stroke="#1cc4d1" stroke-width="0.2">13.8''</text>
</svg>
</body></html>
